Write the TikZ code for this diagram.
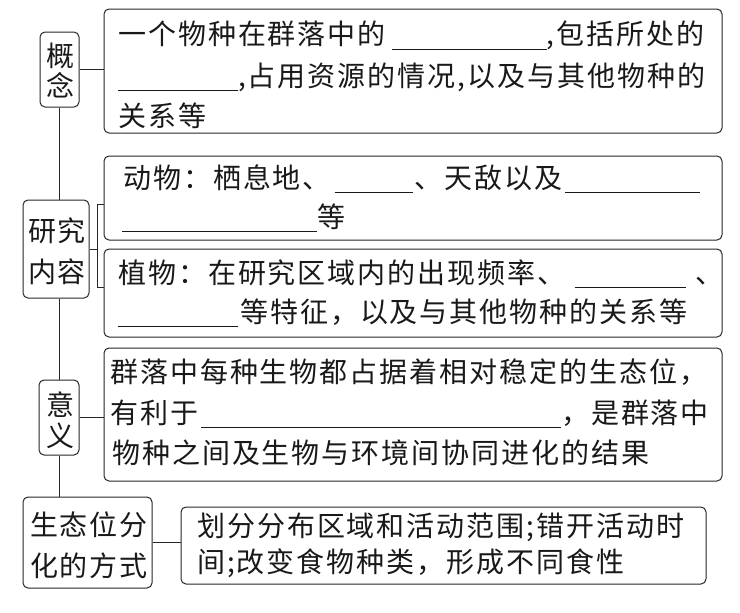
\documentclass[tikz,border=0pt]{standalone}
\usepackage{fontspec}
\setmainfont{Noto Sans CJK SC}
\newfontfamily\cjk[LetterSpace=7]{Noto Sans CJK SC}
\newcommand\blank[1]{\rule[-4.5pt]{#1pt}{0.9pt}}
\begin{document}
\begin{tikzpicture}[x=1pt,y=-1pt,
  box/.style={draw=black!85, line width=1pt, rounded corners=5pt, inner sep=0pt},
  txt/.style={anchor=base west, inner sep=0pt, font=\cjk\fontsize{28}{30}\selectfont, text=black!90},
  lbl/.style={anchor=base, inner sep=0pt, font=\cjk\fontsize{28}{30}\selectfont, text=black!90},
  conn/.style={draw=black!85, line width=1pt}]
\useasboundingbox (0,0) rectangle (740,613);
% label boxes
\node[box, minimum width=39, minimum height=75] (l1) at (59.5,69.5) {};
\node[box, minimum width=66, minimum height=98] (l2) at (56,249) {};
\node[box, minimum width=40, minimum height=75] (l3) at (59,417.5) {};
\node[box, minimum width=129, minimum height=91] (l4) at (87.5,542.5) {};
% content boxes
\node[box, minimum width=618, minimum height=124] (c1) at (413,71) {};
\node[box, minimum width=618, minimum height=84] (c2) at (413,198) {};
\node[box, minimum width=618, minimum height=88] (c3) at (413,293) {};
\node[box, minimum width=618, minimum height=133] (c4) at (413,414.5) {};
\node[box, minimum width=525, minimum height=77] (c5) at (443.5,545.5) {};
% label texts
\node[lbl] (l1a) at (60,66) {概};
\node[lbl] (l1b) at (60,96) {念};
\node[lbl] (l2a) at (57,241) {研究};
\node[lbl] (l2b) at (57,282) {内容};
\node[lbl] (l3a) at (60,415) {意};
\node[lbl] (l3b) at (60,446) {义};
\node[lbl] (l4a) at (89,535) {生态位分};
\node[lbl] (l4b) at (89,576) {化的方式};
% content texts
\node[txt] (t1a) at (118,45) {一个物种在群落中的\hspace{6pt}\blank{155},包括所处的};
\node[txt] (t1b) at (118,86) {\blank{120},占用资源的情况,以及与其他物种的};
\node[txt] (t1c) at (118,126) {关系等};
\node[txt] (t2a) at (123,188) {动物：栖息地、\hspace{4pt}\blank{78}\hspace{2pt}、天敌以及\hspace{2pt}\blank{135}};
\node[txt] (t2b) at (122,227) {\blank{195}等};
\node[txt] (t3a) at (118,283) {植物：在研究区域内的出现频率、\hspace{9pt}\blank{111}\hspace{10pt}、};
\node[txt] (t3b) at (118,322) {\blank{120}\hspace{2pt}等特征，以及与其他物种的关系等};
\node[txt] (t4a) at (110,382) {群落中每种生物都占据着相对稳定的生态位，};
\node[txt] (t4b) at (110,423) {有利于\hspace{3pt}\blank{360}，是群落中};
\node[txt] (t4c) at (112,463) {物种之间及生物与环境间协同进化的结果};
\node[txt] (t5a) at (197,536) {划分分布区域和活动范围;错开活动时};
\node[txt] (t5b) at (197,572) {间;改变食物种类，形成不同食性};
% spine
\draw[conn] (l1.south) -- (l1.south |- l2.north);
\draw[conn] (l1.south |- l2.south) -- (l1.south |- l3.north);
\draw[conn] (l1.south |- l3.south) -- (l1.south |- l4.north);
% branches
\draw[conn] (l1.east) -- (l1.east -| c1.west);
\coordinate (bt) at (97,204);
\coordinate (bb) at (97,287);
\draw[conn] (l2.east) -- (l2.east -| bt);
\draw[conn] (c2.west |- bt) -- (bt) -- (bb) -- (c3.west |- bb);
\draw[conn] (l3.east) -- (l3.east -| c4.west);
\draw[conn] (l4.east) -- (l4.east -| c5.west);
\end{tikzpicture}
\end{document}
